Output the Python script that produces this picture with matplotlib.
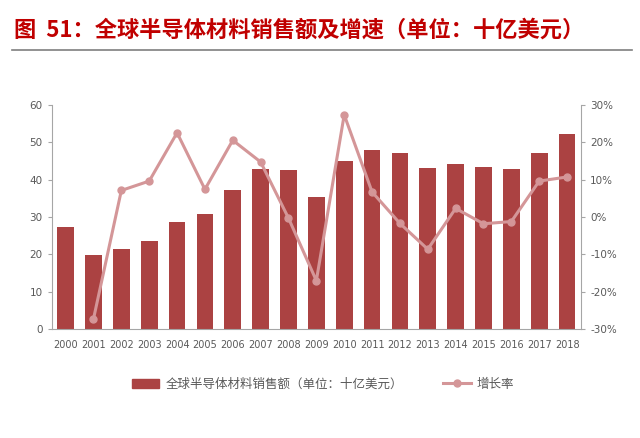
import numpy as np
import matplotlib
matplotlib.use('Agg')
from matplotlib import pyplot as plt
from matplotlib.lines import Line2D
from matplotlib.patches import Patch
from matplotlib.ticker import PercentFormatter

plt.rcParams['font.family'] = ['Noto Sans CJK SC', 'DejaVu Sans']
plt.rcParams['axes.unicode_minus'] = False

years = ['2000', '2001', '2002', '2003', '2004', '2005', '2006', '2007', '2008', '2009',
         '2010', '2011', '2012', '2013', '2014', '2015', '2016', '2017', '2018']
sales = [27.3, 19.8, 21.4, 23.6, 28.6, 30.7, 37.2, 42.7, 42.5, 35.3,
         44.9, 47.8, 47.0, 43.0, 44.1, 43.3, 42.7, 47.0, 52.1]
# growth rate in %, 2001 onwards
growth = [-27.2, 7.1, 9.6, 22.5, 7.4, 20.5, 14.7, -0.3, -17.0,
          27.3, 6.7, -1.7, -8.6, 2.3, -1.8, -1.2, 9.6, 10.7]

bar_color = '#ab4242'
line_color = '#d49698'
axis_color = '#a6a6a6'
text_color = '#595959'

fig = plt.figure(figsize=(6.4, 4.38), dpi=100)

# title and rule under it
fig.text(0.022, 0.932, '图  51：全球半导体材料销售额及增速（单位：十亿美元）',
         color='#c00000', fontsize=16, fontweight='bold', va='center', ha='left')
fig.add_artist(Line2D([0.018, 0.988], [0.885, 0.885], color='#7f7f7f', lw=1.2))

ax = fig.add_axes([0.0808, 0.248, 0.827, 0.513])
x = np.arange(len(years))
ax.bar(x, sales, width=0.6, color=bar_color, zorder=2)
ax.set_xlim(-0.5, len(years) - 0.5)
ax.set_ylim(0, 60)
ax.set_yticks(range(0, 61, 10))
ax.set_xticks(x)
ax.set_xticklabels(years)

ax2 = ax.twinx()
gx = np.arange(1, len(years))
ax2.plot(gx, growth, color=line_color, lw=2.2, marker='o', markersize=5, zorder=3)
ax2.set_ylim(-30, 30)
ax2.set_yticks(range(-30, 31, 10))
ax2.yaxis.set_major_formatter(PercentFormatter(decimals=0))

for a in (ax, ax2):
    a.spines['top'].set_visible(False)
    for s in ('left', 'right', 'bottom'):
        a.spines[s].set_color(axis_color)
        a.spines[s].set_linewidth(0.8)
    a.tick_params(axis='both', colors=axis_color, labelcolor=text_color,
                  labelsize=7.5, length=3, width=0.8)
    for lab in a.get_yticklabels() + a.get_xticklabels():
        lab.set_family(['DejaVu Sans'])
ax.tick_params(axis='x', length=0, pad=8, labelsize=7)
ax.spines['right'].set_visible(False)
ax2.spines['left'].set_visible(False)
ax2.spines['bottom'].set_visible(False)

handles = [Patch(color=bar_color),
           Line2D([0], [0], color=line_color, lw=2.2, marker='o', markersize=5)]
labels = ['全球半导体材料销售额（单位：十亿美元）', '增长率']
fig.legend(handles, labels, loc='center', bbox_to_anchor=(0.505, 0.123), ncol=2,
           frameon=False, fontsize=9, labelcolor=text_color, columnspacing=3.2,
           handlelength=2.2, handletextpad=0.5)

fig.savefig('out.png', dpi=100)
